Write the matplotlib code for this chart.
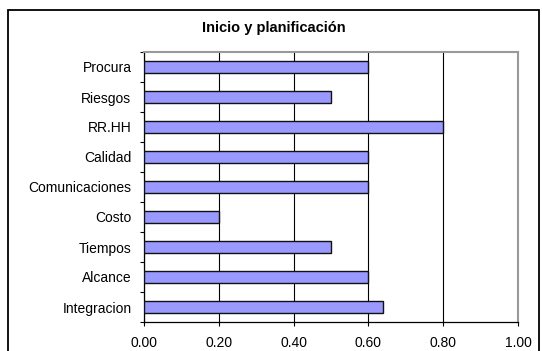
import matplotlib.pyplot as plt
import matplotlib.patches as mpatches
import numpy as np

plt.rcParams['font.family'] = ['Liberation Sans', 'DejaVu Sans']

# categories from bottom to top
categories = ["Integracion", "Alcance", "Tiempos", "Costo", "Comunicaciones",
              "Calidad", "RR.HH", "Riesgos", "Procura"]
values = [0.64, 0.60, 0.50, 0.20, 0.60, 0.60, 0.80, 0.50, 0.60]
xticks = [0.0, 0.2, 0.4, 0.6, 0.8, 1.0]

W, H = 542, 351
fig = plt.figure(figsize=(W / 100, H / 100), dpi=100)
ax = fig.add_axes([144 / W, 1 - 322 / H, 374 / W, 270 / H])

# outer frame of the chart (bottom edge runs off the picture)
fig.patches.append(mpatches.Rectangle((8 / W, -0.1), 531 / W, 1 - 10 / H + 0.1,
                                      transform=fig.transFigure, fill=False,
                                      edgecolor="black", linewidth=1.3))

y = np.arange(len(categories))
ax.barh(y, values, height=0.4, color="#9999FF", edgecolor="#111111", linewidth=1.0, zorder=3)

ax.set_xlim(0, 1.0)
ax.set_ylim(-0.5, len(categories) - 0.5)
ax.set_xticks(xticks)
ax.set_xticklabels(["%.2f" % v for v in xticks], fontsize=10)
ax.set_yticks(y)
ax.set_yticklabels(categories, fontsize=10)
ax.tick_params(axis="y", which="major", length=0, pad=9)
ax.set_yticks(np.arange(-0.5, len(categories), 1.0), minor=True)
ax.tick_params(axis="y", which="minor", length=3, width=0.8, direction="out")
ax.tick_params(axis="x", length=3, width=0.8, pad=7)

ax.grid(axis="x", color="black", linewidth=0.8, zorder=0)
for s in ["top", "right"]:
    ax.spines[s].set_color("#999999")
    ax.spines[s].set_linewidth(1.5)
for s in ["left", "bottom"]:
    ax.spines[s].set_linewidth(0.9)

fig.text(274 / W, 1 - 28 / H, "Inicio y planificación", ha="center", va="center",
         fontsize=10.5, fontweight="bold")

fig.savefig("out.png", dpi=100)
